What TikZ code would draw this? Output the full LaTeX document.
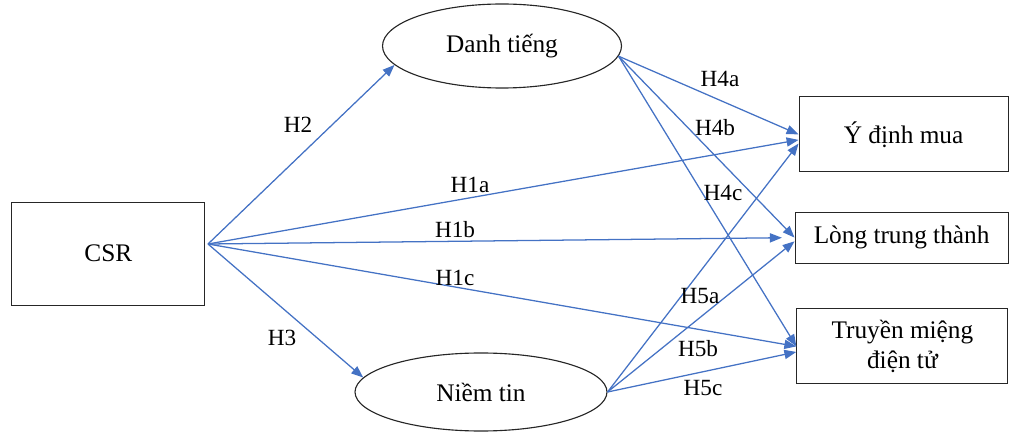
\documentclass[tikz,border=0pt]{standalone}
\usepackage{fontspec}
\setmainfont{Liberation Serif}
\usetikzlibrary{arrows.meta,shapes.geometric}
\definecolor{linkblue}{HTML}{4472C4}
\begin{document}
\begin{tikzpicture}[
                >={Triangle[length=8.5pt,width=6.5pt]},
                box/.style={draw=black!85, line width=0.8pt, inner sep=0pt, align=center,
                    font=\fontsize{18}{21.5}\selectfont},
                oval/.style={ellipse, draw=black!85, line width=0.8pt, inner sep=0pt,
                    font=\fontsize{18}{21.5}\selectfont},
                link/.style={->, linkblue, line width=0.9pt},
                hyp/.style={font=\fontsize{16.5}{18}\selectfont}
            ]
            \useasboundingbox (0,0) rectangle (25.25,10.85);

            % Cac khai niem
            \node[box, minimum width=4.825cm, minimum height=2.575cm] (csr) at (2.71,4.51) {CSR};
            \node[oval, minimum width=5.975cm, minimum height=2.1cm] (dt) at (12.55,9.7) {Danh tiếng};
            \node[oval, minimum width=6.3cm, minimum height=1.95cm] (nt) at (12.025,1.05) {Niềm tin};
            \node[box, minimum width=5.225cm, minimum height=1.875cm] (yd) at (22.59,7.49) {Ý định mua};
            \node[box, minimum width=5.325cm, minimum height=1.275cm] (lt) at (22.54,4.91) {Lòng trung thành};
            \node[box, minimum width=5.275cm, minimum height=1.875cm] (tm) at (22.56,2.19) {Truyền miệng\\điện tử};
            \coordinate (csrout) at (5.2,4.75);

            % CSR -> cac bien
            \draw[link] (csrout) -- (dt.190);
            \draw[link] (csrout) -- (nt.173);
            \draw[link] (csrout) -- (yd.183);
            \draw[link, shorten >=9pt] (csrout) -- (lt.west);
            \draw[link] (csrout) -- (tm.west);

            % Danh tieng -> ket qua
            \draw[link] (dt.-5) -- (yd.west);
            \draw[link] (dt.-5) -- (lt.west);
            \draw[link] (dt.-5) -- (tm.west);

            % Niem tin -> ket qua
            \draw[link] (nt.east) -- (yd.185);
            \draw[link] (nt.east) -- (lt.182);
            \draw[link] (nt.east) -- (tm.183);

            % Gia thuyet
            \node[hyp] (h2) at (7.45,7.725) {H2};
            \node[hyp] (h3) at (7.05,2.4) {H3};
            \node[hyp] (h1a) at (11.75,6.225) {H1a};
            \node[hyp] (h1b) at (11.375,5.1) {H1b};
            \node[hyp] (h1c) at (11.375,3.9) {H1c};
            \node[hyp] (h4a) at (18.0,8.875) {H4a};
            \node[hyp] (h4b) at (17.875,7.65) {H4b};
            \node[hyp] (h4c) at (18.075,6.025) {H4c};
            \node[hyp] (h5a) at (17.5,3.45) {H5a};
            \node[hyp] (h5b) at (17.45,2.125) {H5b};
            \node[hyp] (h5c) at (17.575,1.15) {H5c};
        \end{tikzpicture}
\end{document}
